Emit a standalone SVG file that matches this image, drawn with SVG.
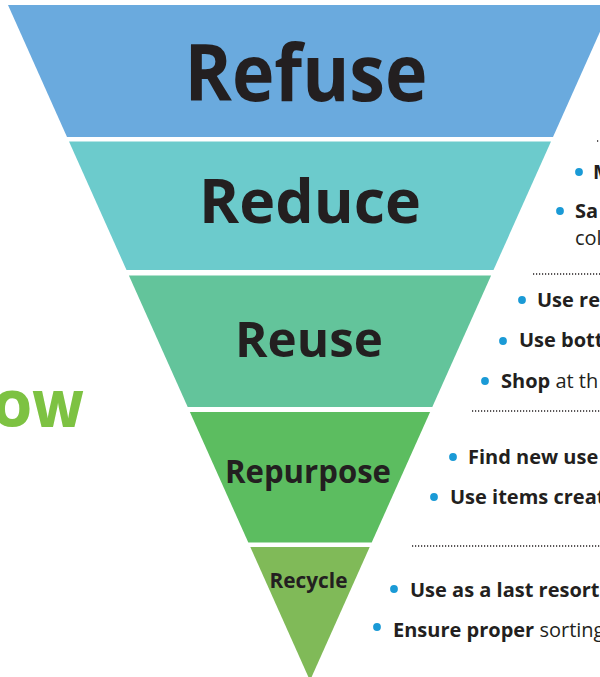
<svg xmlns="http://www.w3.org/2000/svg" width="600" height="677" viewBox="0 0 600 677">
<style>
.title{font-family:"Open Sans","Liberation Sans",sans-serif;font-weight:700;fill:#231f20;text-anchor:middle}
.item{font-family:"Open Sans","Liberation Sans",sans-serif;font-weight:700;font-size:20px;fill:#231f20}
.reg{font-weight:400}
.bullet{fill:#1a9ad6}
.dots{stroke:#231f20;stroke-width:1.3;stroke-dasharray:1.2 1.8;fill:none}
.grow{font-family:"Open Sans","Liberation Sans",sans-serif;font-weight:800;font-size:50px;fill:#7dc242;text-anchor:end}
</style>
<rect width="600" height="677" fill="#ffffff"/>
<g id="refuse">
<polygon points="8,5 612,5 553,137 67,137" fill="#6aaade"/>
<text class="title" x="306" y="101" font-size="78" textLength="243" lengthAdjust="spacingAndGlyphs">Refuse</text>
</g>
<g id="reduce">
<polygon points="69,141.5 551,141.5 493.5,270 126.5,270" fill="#6ccbcc"/>
<text class="title" x="310" y="223" font-size="60" textLength="222" lengthAdjust="spacingAndGlyphs">Reduce</text>
</g>
<g id="reuse">
<polygon points="128.9,275.5 491.1,275.5 432.3,407 187.7,407" fill="#63c49b"/>
<text class="title" x="309" y="357" font-size="49" textLength="148" lengthAdjust="spacingAndGlyphs">Reuse</text>
</g>
<g id="repurpose">
<polygon points="189.9,412 430.1,412 371.7,542.5 248.3,542.5" fill="#5cbd60"/>
<text class="title" x="308" y="483" font-size="32" textLength="166" lengthAdjust="spacingAndGlyphs">Repurpose</text>
</g>
<g id="recycle">
<polygon points="250.3,547 369.7,547 310,680.6" fill="#80ba58"/>
<text class="title" x="308.5" y="588" font-size="22" textLength="78" lengthAdjust="spacingAndGlyphs">Recycle</text>
</g>
<g id="grow">
<text class="grow" x="84" y="427">OW</text>
</g>
<g id="connectors">
<line class="dots" x1="597" y1="141" x2="600" y2="141"/>
<line class="dots" x1="533" y1="274" x2="600" y2="274"/>
<line class="dots" x1="472" y1="411" x2="600" y2="411"/>
<line class="dots" x1="412" y1="546" x2="600" y2="546"/>
</g>
<g id="notes">
<circle class="bullet" cx="579" cy="172" r="3.9"/>
<text class="item" x="593" y="179">M</text>
<circle class="bullet" cx="560" cy="211" r="3.9"/>
<text class="item" x="575" y="218">Sa</text>
<text class="item reg" x="575" y="245">col</text>
<circle class="bullet" cx="522" cy="300" r="3.9"/>
<text class="item" x="537" y="307">Use re</text>
<circle class="bullet" cx="503" cy="341" r="3.9"/>
<text class="item" x="519" y="347">Use bott</text>
<circle class="bullet" cx="485" cy="381" r="3.9"/>
<text class="item" x="501" y="388">Shop<tspan class="reg"> at th</tspan></text>
<circle class="bullet" cx="453" cy="457" r="3.9"/>
<text class="item" x="468" y="464">Find new use</text>
<circle class="bullet" cx="434" cy="497" r="3.9"/>
<text class="item" x="450" y="504">Use items creat</text>
<circle class="bullet" cx="394" cy="589" r="3.9"/>
<text class="item" x="410" y="597">Use as a last resort</text>
<circle class="bullet" cx="377" cy="627" r="3.9"/>
<text class="item" x="393" y="637">Ensure proper<tspan class="reg"> sorting</tspan></text>
</g>
</svg>
